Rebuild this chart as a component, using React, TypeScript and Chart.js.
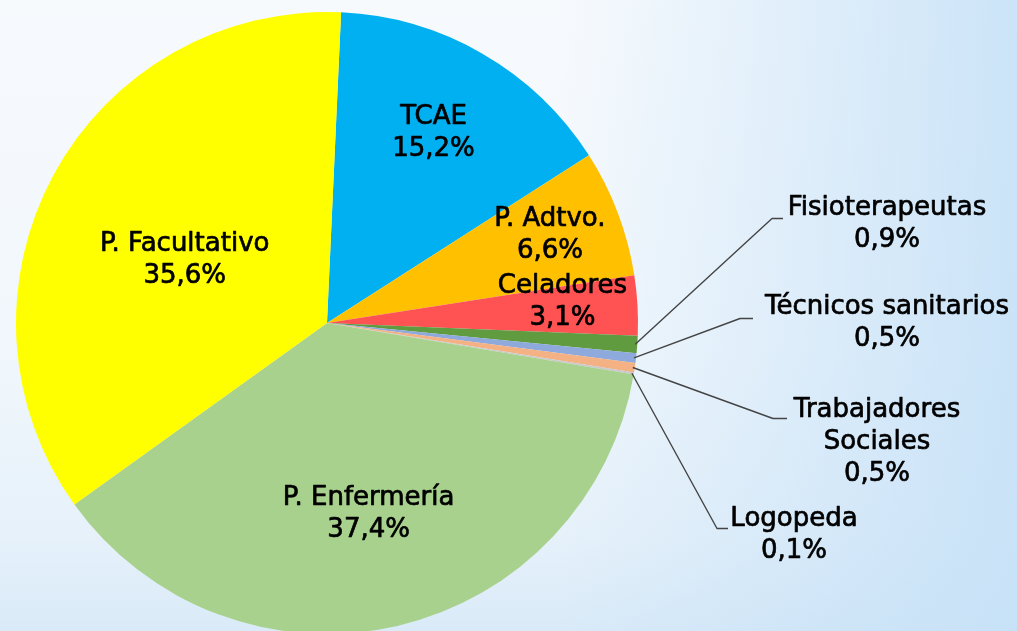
import React, { useEffect, useRef } from "react";
import { Chart, registerables } from "chart.js";

Chart.register(...registerables);

const categories = [
  "TCAE",
  "P. Adtvo.",
  "Celadores",
  "Fisioterapeutas",
  "Técnicos sanitarios",
  "Trabajadores\nSociales",
  "Logopeda",
  "P. Enfermería",
  "P. Facultativo",
];
const shares = [15.2, 6.6, 3.1, 0.9, 0.5, 0.5, 0.1, 37.4, 35.6];
const sliceColors = [
  "#00B0F0",
  "#FFC000",
  "#FF5252",
  "#609B3F",
  "#8EA9DB",
  "#F4B183",
  "#C9C9C9",
  "#A9D18E",
  "#FFFF00",
];

// label placement (style only): inside labels -> radius fraction & angle tweak (deg)
const insidePlacement: Record<number, { rf: number; da: number }> = {
  0: { rf: 0.7, da: -0.7 },
  1: { rf: 0.77, da: -0.7 },
  2: { rf: 0.76, da: -1.7 },
  7: { rf: 0.63, da: 0.8 },
  8: { rf: 0.5, da: -4.7 },
};
// outside labels -> elbow (relative to pie center), tail length, text anchor (relative to center)
const outsidePlacement: Record<number, { ex: number; ey: number; tail: number; tx: number; ty: number }> = {
  3: { ex: 445, ey: -105, tail: 11, tx: 560, ty: -115 },
  4: { ex: 413, ey: -5, tail: 13, tx: 560, ty: -16 },
  5: { ex: 446, ey: 95, tail: 14, tx: 550, ty: 87 },
  6: { ex: 390, ey: 205, tail: 11, tx: 467, ty: 196 },
};

const FONT = '26px "DejaVu Sans"';
const LINE_H = 32;

const fmt = (v: number) => v.toFixed(1).replace(".", ",") + "%";

const labelPlugin = {
  id: "pieLabels",
  afterDatasetsDraw(chart: any) {
    const ctx = chart.ctx;
    const meta = chart.getDatasetMeta(0);
    ctx.save();
    ctx.font = FONT;
    ctx.fillStyle = "#000";
    ctx.textAlign = "center";
    ctx.textBaseline = "middle";
    const drawText = (t: string, tx: number, ty: number) => {
      ctx.strokeStyle = "#000";
      ctx.lineWidth = 0.7;
      ctx.lineJoin = "round";
      ctx.strokeText(t, tx, ty);
      ctx.fillText(t, tx, ty);
    };
    meta.data.forEach((arc: any, i: number) => {
      const { x, y, startAngle, endAngle, outerRadius } = arc.getProps(
        ["x", "y", "startAngle", "endAngle", "outerRadius"],
        true
      );
      const mid = (startAngle + endAngle) / 2;
      const lines = [...categories[i].split("\n"), fmt(shares[i])];
      const ins = insidePlacement[i];
      if (ins) {
        const a = mid + (ins.da * Math.PI) / 180;
        const cx = x + Math.cos(a) * outerRadius * ins.rf;
        const cy = y + Math.sin(a) * outerRadius * ins.rf;
        const top = cy - ((lines.length - 1) * LINE_H) / 2;
        lines.forEach((t, k) => drawText(t, cx, top + k * LINE_H));
        return;
      }
      const out = outsidePlacement[i];
      if (out) {
        const sx = x + Math.cos(mid) * (outerRadius - 2);
        const sy = y + Math.sin(mid) * (outerRadius - 2);
        const ey = Math.round(y + out.ey) + 0.5;
        ctx.strokeStyle = "#444";
        ctx.lineWidth = 1.4;
        ctx.beginPath();
        ctx.moveTo(sx, sy);
        ctx.lineTo(x + out.ex, ey);
        ctx.lineTo(x + out.ex + out.tail, ey);
        ctx.stroke();
        lines.forEach((t, k) => drawText(t, x + out.tx, y + out.ty + k * LINE_H));
      }
    });
    ctx.restore();
  },
};

export default function App() {
  const ref = useRef<HTMLCanvasElement | null>(null);
  useEffect(() => {
    document.body.style.margin = "0";
    if (!ref.current) return;
    const chart = new Chart(ref.current, {
      type: "pie",
      data: {
        labels: categories,
        datasets: [
          {
            data: shares,
            backgroundColor: sliceColors,
            borderWidth: 0,
          },
        ],
      },
      options: {
        responsive: false,
        animation: false,
        rotation: 2.6,
        layout: { padding: { left: 16, right: 379, top: 12, bottom: 6 } },
        plugins: {
          legend: { display: false },
          tooltip: { enabled: false },
        },
      },
      plugins: [labelPlugin],
    });
    return () => chart.destroy();
  }, []);
  return (
    <div
      style={{
        width: 1017,
        height: 631,
        overflow: "hidden",
        position: "relative",
        background:
          "linear-gradient(to right, rgba(246,250,254,0) 0%, rgba(246,250,254,0) 55%, rgba(196,224,247,0.85) 100%), linear-gradient(to bottom, #f7fafd 0%, #f1f7fc 55%, #e6f1fa 85%, #d9eaf8 100%)",
      }}
    >
      <canvas ref={ref} width={1017} height={640} style={{ display: "block" }} />
    </div>
  );
}
